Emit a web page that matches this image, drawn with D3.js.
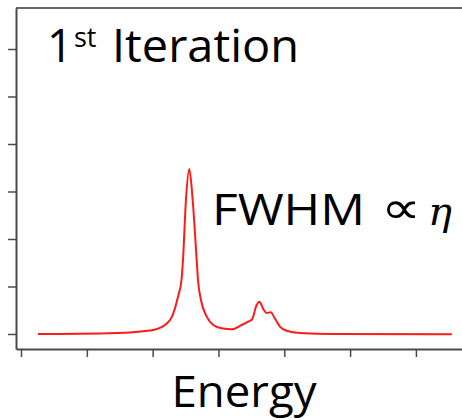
<!DOCTYPE html>
<html>
<head>
<meta charset="utf-8">
<script src="https://cdn.jsdelivr.net/npm/d3@7/dist/d3.min.js"></script>
<style>
html,body{margin:0;padding:0;background:#fff;}
svg{display:block;}
</style>
</head>
<body>
<svg id="chart" width="462" height="420"></svg>
<script>
// ---- data ----
const energy = [0.258, 1.20, 1.656, 1.884, 2.005, 2.187, 2.294, 2.385, 2.438, 2.461, 2.506, 2.557,
  2.608, 2.669, 2.689, 2.734, 2.821, 2.921, 3.049, 3.205, 3.353, 3.453, 3.509, 3.580, 3.620,
  3.681, 3.732, 3.793, 3.858, 3.934, 4.036, 4.238, 4.739, 6.547];
const intensity = [0.0, 0.01, 0.03, 0.063, 0.084, 0.19, 0.364, 0.785, 1.137, 1.558, 2.821, 3.474,
  2.821, 1.558, 1.137, 0.716, 0.364, 0.19, 0.12, 0.099, 0.19, 0.259, 0.305, 0.611, 0.68,
  0.526, 0.442, 0.457, 0.326, 0.154, 0.069, 0.021, 0.0, -0.006];
const xTicks = [0, 1, 2, 3, 4, 5, 6];
const yTicks = [0, 1, 2, 3, 4, 5, 6];
const titleMain = "1";
const titleSup = "st";
const titleRest = "Iteration";
const noteText = "FWHM";
const noteProp = "\u221D";
const noteSym = "\u03B7";
const xLabel = "Energy";

const svg = d3.select("#chart");
const x = d3.scaleLinear().domain([-0.076, 6.7]).range([16, 462]);
const y = d3.scaleLinear().domain([-0.316, 6.863]).range([349, 8]);
const axisColor = "#4a4a4a";

// top frame line
svg.append("line").attr("x1", 16).attr("x2", 462).attr("y1", 8).attr("y2", 8)
  .attr("stroke", "#666").attr("stroke-width", 2);

const gx = svg.append("g").attr("transform", "translate(0,349)")
  .call(d3.axisBottom(x).tickValues(xTicks).tickSize(8).tickSizeOuter(0).tickFormat(""));
const gy = svg.append("g").attr("transform", "translate(16,0)")
  .call(d3.axisLeft(y).tickValues(yTicks).tickSize(8).tickSizeOuter(0).tickFormat(""));
[gx, gy].forEach(g => {
  g.selectAll("path.domain").attr("stroke", axisColor).attr("stroke-width", 2);
  g.selectAll(".tick line").attr("stroke", axisColor).attr("stroke-width", 1.5);
});

// spectrum line
const pts = energy.map((e, i) => [e, intensity[i]]);
svg.append("path").datum(pts)
  .attr("fill", "none").attr("stroke", "#ff1a1a").attr("stroke-width", 2)
  .attr("stroke-linejoin", "round")
  .attr("d", d3.line().x(d => x(d[0])).y(d => y(d[1])).curve(d3.curveMonotoneX));

const font = "'Open Sans', sans-serif";
function txt(str, x0, y0, size, opts = {}) {
  const el = svg.append("text").attr("x", x0).attr("y", y0)
    .attr("font-family", opts.family || font).attr("font-size", size).attr("fill", "#000").text(str);
  if (opts.len) el.attr("textLength", opts.len).attr("lengthAdjust", "spacingAndGlyphs");
  if (opts.italic) el.attr("font-style", "italic");
  if (opts.anchor) el.attr("text-anchor", opts.anchor);
  return el;
}
// title
txt(titleMain, 47, 62, 45);
txt(titleSup, 74, 47, 27);
txt(titleRest, 112, 62, 45, {len: 187});

// note
txt(noteText, 212, 225, 44, {len: 153});
txt(noteProp, 381, 223, 44, {family: "'DejaVu Sans', sans-serif", len: 40});
txt(noteSym, 428, 225, 40, {family: "'DejaVu Serif', serif", italic: true});

// x label
txt(xLabel, 244, 407, 43, {len: 145, anchor: "middle"});
</script>
</body>
</html>
